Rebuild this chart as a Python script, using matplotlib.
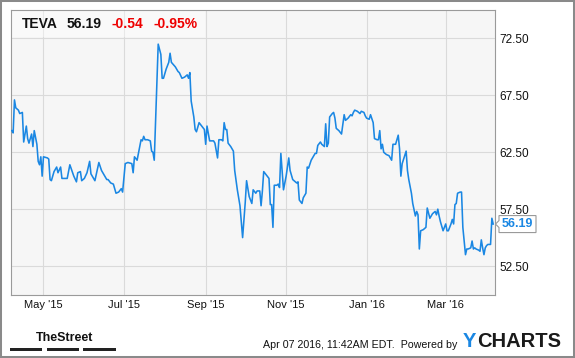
import pandas as pd
import matplotlib
matplotlib.use('Agg')
import matplotlib.pyplot as plt
from matplotlib.patches import Rectangle, Polygon

plt.rcParams['font.family'] = ['Liberation Sans', 'DejaVu Sans']

# --- Data ---
dates = [
    '2015-04-07', '2015-04-08', '2015-04-09', '2015-04-10', '2015-04-12', '2015-04-13', '2015-04-15',
    '2015-04-16', '2015-04-18', '2015-04-19', '2015-04-20', '2015-04-22', '2015-04-23', '2015-04-24',
    '2015-04-26', '2015-04-27', '2015-04-28', '2015-04-29', '2015-04-30', '2015-05-01', '2015-05-04',
    '2015-05-05', '2015-05-06', '2015-05-07', '2015-05-09', '2015-05-11', '2015-05-12', '2015-05-14',
    '2015-05-15', '2015-05-17', '2015-05-19', '2015-05-21', '2015-05-24', '2015-05-26', '2015-05-27',
    '2015-05-29', '2015-05-30', '2015-06-01', '2015-06-03', '2015-06-05', '2015-06-06', '2015-06-09',
    '2015-06-12', '2015-06-14', '2015-06-17', '2015-06-18', '2015-06-19', '2015-06-21', '2015-06-23',
    '2015-06-25', '2015-06-27', '2015-06-29', '2015-06-30', '2015-07-02', '2015-07-04', '2015-07-07',
    '2015-07-08', '2015-07-09', '2015-07-11', '2015-07-13', '2015-07-14', '2015-07-15', '2015-07-16',
    '2015-07-17', '2015-07-19', '2015-07-21', '2015-07-22', '2015-07-23', '2015-07-24', '2015-07-27',
    '2015-07-29', '2015-07-30', '2015-07-31', '2015-08-02', '2015-08-04', '2015-08-05', '2015-08-06',
    '2015-08-09', '2015-08-11', '2015-08-12', '2015-08-14', '2015-08-16', '2015-08-18', '2015-08-19',
    '2015-08-20', '2015-08-21', '2015-08-23', '2015-08-24', '2015-08-25', '2015-08-27', '2015-08-29',
    '2015-08-31', '2015-09-01', '2015-09-02', '2015-09-04', '2015-09-07', '2015-09-08', '2015-09-10',
    '2015-09-11', '2015-09-13', '2015-09-14', '2015-09-15', '2015-09-16', '2015-09-17', '2015-09-18',
    '2015-09-20', '2015-09-22', '2015-09-23', '2015-09-25', '2015-09-27', '2015-09-29', '2015-10-01',
    '2015-10-02', '2015-10-04', '2015-10-06', '2015-10-07', '2015-10-09', '2015-10-10', '2015-10-12',
    '2015-10-13', '2015-10-14', '2015-10-15', '2015-10-17', '2015-10-19', '2015-10-20', '2015-10-21',
    '2015-10-22', '2015-10-23', '2015-10-25', '2015-10-26', '2015-10-27', '2015-10-28', '2015-10-30',
    '2015-11-01', '2015-11-03', '2015-11-04', '2015-11-06', '2015-11-08', '2015-11-09', '2015-11-10',
    '2015-11-11', '2015-11-13', '2015-11-14', '2015-11-16', '2015-11-17', '2015-11-18', '2015-11-20',
    '2015-11-21', '2015-11-23', '2015-11-24', '2015-11-25', '2015-11-27', '2015-11-28', '2015-11-30',
    '2015-12-01', '2015-12-02', '2015-12-03', '2015-12-04', '2015-12-06', '2015-12-07', '2015-12-08',
    '2015-12-09', '2015-12-11', '2015-12-13', '2015-12-15', '2015-12-16', '2015-12-18', '2015-12-20',
    '2015-12-21', '2015-12-22', '2015-12-23', '2015-12-25', '2015-12-27', '2015-12-28', '2015-12-30',
    '2015-12-31', '2016-01-01', '2016-01-03', '2016-01-04', '2016-01-06', '2016-01-07', '2016-01-09',
    '2016-01-10', '2016-01-11', '2016-01-12', '2016-01-13', '2016-01-14', '2016-01-16', '2016-01-18',
    '2016-01-20', '2016-01-21', '2016-01-23', '2016-01-25', '2016-01-26', '2016-01-27', '2016-01-28',
    '2016-01-31', '2016-02-01', '2016-02-02', '2016-02-04', '2016-02-05', '2016-02-07', '2016-02-08',
    '2016-02-09', '2016-02-10', '2016-02-11', '2016-02-13', '2016-02-14', '2016-02-15', '2016-02-16',
    '2016-02-18', '2016-02-20', '2016-02-22', '2016-02-23', '2016-02-24', '2016-02-25', '2016-02-26',
    '2016-02-28', '2016-03-01', '2016-03-02', '2016-03-03', '2016-03-05', '2016-03-06', '2016-03-07',
    '2016-03-08', '2016-03-09', '2016-03-10', '2016-03-12', '2016-03-13', '2016-03-14', '2016-03-16',
    '2016-03-17', '2016-03-18', '2016-03-20', '2016-03-21', '2016-03-22', '2016-03-23', '2016-03-24',
    '2016-03-26', '2016-03-27', '2016-03-28', '2016-03-29', '2016-03-30', '2016-03-31', '2016-04-01',
    '2016-04-02', '2016-04-04', '2016-04-05', '2016-04-06',
]
prices = [
    64.4, 64.2, 67.1, 66.4, 66.2, 65.9, 66.0,
    63.4, 64.8, 63.7, 63.3, 64.1, 63.0, 64.4,
    63.2, 61.7, 61.4, 62.1, 60.4, 62.1, 62.0,
    61.9, 60.1, 60.0, 60.8, 61.2, 60.7, 61.2,
    60.2, 60.2, 60.2, 61.4, 60.4, 59.9, 60.7,
    60.8, 60.0, 60.2, 60.7, 61.7, 60.6, 60.0,
    61.6, 60.9, 60.3, 60.1, 60.1, 59.8, 59.7,
    58.9, 59.0, 59.3, 59.0, 61.5, 61.6, 61.5,
    60.7, 62.1, 61.8, 63.0, 63.6, 63.5, 63.9,
    63.6, 63.6, 63.5, 62.6, 62.5, 61.8, 72.0,
    71.1, 69.0, 69.0, 69.8, 70.4, 71.2, 70.4,
    70.0, 69.6, 69.5, 69.0, 69.1, 69.3, 69.0,
    69.5, 67.0, 65.6, 64.5, 64.3, 65.1, 64.8,
    64.5, 63.2, 64.8, 63.5, 63.5, 63.3, 62.0,
    63.6, 63.6, 63.5, 65.1, 64.5, 64.5, 63.3,
    63.0, 62.6, 60.9, 59.2, 57.8, 55.0, 58.1,
    60.0, 58.6, 58.0, 59.2, 58.9, 59.1, 59.1,
    57.8, 59.1, 60.8, 60.5, 60.2, 57.9, 57.9,
    55.9, 59.6, 59.6, 59.7, 59.4, 62.4, 59.2,
    60.4, 62.0, 60.9, 60.1, 59.9, 59.8, 59.9,
    58.3, 58.0, 58.5, 58.9, 61.2, 61.1, 61.8,
    62.0, 62.4, 62.4, 63.1, 63.4, 63.2, 63.0,
    65.0, 63.0, 63.3, 65.6, 65.9, 66.0, 65.5,
    64.6, 64.4, 64.1, 65.8, 65.3, 65.5, 65.8,
    65.7, 66.0, 66.2, 66.1, 65.9, 66.1, 66.0,
    65.7, 65.5, 65.4, 65.8, 65.1, 63.7, 63.6,
    63.6, 64.4, 62.8, 63.2, 62.5, 62.3, 62.2,
    61.8, 63.2, 63.2, 64.0, 62.8, 60.4, 61.5,
    62.6, 60.9, 60.1, 58.9, 58.0, 56.9, 57.3,
    57.0, 54.0, 55.6, 55.7, 55.8, 55.9, 57.6,
    56.7, 57.1, 57.3, 57.0, 57.5, 56.9, 56.4,
    55.6, 56.2, 55.6, 55.6, 56.2, 56.6, 56.2,
    57.9, 58.0, 58.9, 59.0, 59.0, 55.9, 53.5,
    54.0, 54.0, 54.1, 54.7, 54.0, 54.1, 54.0,
    53.9, 53.8, 54.8, 54.1, 53.5, 54.1, 54.3,
    54.4, 54.4, 56.7, 56.19,
]

x_ticks = ['2015-05-01', '2015-07-01', '2015-09-01', '2015-11-01', '2016-01-01', '2016-03-01']
x_labels = ["May '15", "Jul '15", "Sep '15", "Nov '15", "Jan '16", "Mar '16"]
y_ticks = [52.5, 57.5, 62.5, 67.5, 72.5]
x_range = ['2015-04-06', '2016-04-07']
y_range = [50, 75]

header = ['TEVA', '56.19', '-0.54', '-0.95%']
stamp = 'Apr 07 2016, 11:42AM EDT.  Powered by'

blue = '#1a87e3'
W, H = 575, 358


def fx(px):
    return px / W


def fy(py):
    return 1 - py / H


# --- Figure ---
fig = plt.figure(figsize=(W / 100, H / 100), dpi=100)
ax = fig.add_axes([fx(10.5), fy(294.5), (494.5 - 10.5) / W, (294.5 - 10) / H])
ax.set_facecolor('#f6f6f6')

t = pd.to_datetime(dates)
ax.plot(t, prices, color=blue, linewidth=1.15, zorder=3)

ax.set_xlim(pd.to_datetime(x_range))
ax.set_ylim(y_range)
ax.set_xticks(pd.to_datetime(x_ticks))
ax.set_xticklabels(x_labels)
ax.yaxis.tick_right()
ax.set_yticks(y_ticks)
ax.set_yticklabels([f'{v:.2f}' for v in y_ticks])
ax.tick_params(axis='x', length=0, pad=4, labelsize=8, colors='#111111')
ax.tick_params(axis='y', length=0, pad=3.3, labelsize=8.5, colors='#111111')
ax.grid(True, color='#dadada', linewidth=0.8)
ax.set_axisbelow(True)
for s in ax.spines.values():
    s.set_color('#9a9a9a')
    s.set_linewidth(0.8)

# lighter band behind the header
ax.add_patch(Rectangle((0, (294.5 - 37) / 284.5), (205 - 10.5) / 484, 1 - (294.5 - 37) / 284.5,
                       transform=ax.transAxes, facecolor='white', alpha=0.4,
                       edgecolor='none', zorder=1))

# header
header_x = [22, 67, 112, 153]
header_c = ['#111111', '#111111', '#ee0000', '#ee0000']
for txt, hx, hc in zip(header, header_x, header_c):
    fig.text(fx(hx), fy(28.3), txt, fontsize=10, fontweight='bold', color=hc, va='baseline')

# last price flag
fig.canvas.draw()
y_last = H - ax.transData.transform((t[-1].toordinal(), prices[-1]))[1]
flag = [(499, y_last - 8.5), (536, y_last - 8.5), (536, y_last + 8.5), (499, y_last + 8.5),
        (499, y_last + 3.5), (495.5, y_last), (499, y_last - 3.5)]
fig.add_artist(Polygon([(fx(a), fy(b)) for a, b in flag], closed=True, transform=fig.transFigure,
                       facecolor='white', edgecolor='#9a9a9a', linewidth=0.8))
fig.text(fx(517.5), fy(y_last), f'{prices[-1]:.2f}', fontsize=9, fontweight='bold',
         color=blue, ha='center', va='center')

# footer
fig.text(fx(36), fy(340.7), 'TheStreet', fontsize=9, fontweight='bold', va='baseline',
         color='#111111')
for x0, x1 in [(10, 42), (47, 79), (83, 116)]:
    fig.add_artist(Rectangle((fx(x0), fy(350.5)), (x1 - x0) / W, 3 / H,
                             transform=fig.transFigure, facecolor='#222222', edgecolor='none'))
fig.text(fx(263), fy(347.6), stamp, fontsize=7.7, va='baseline', color='#111111')
fig.text(fx(463), fy(347.3), 'Y', fontsize=14.5, fontweight='bold', va='baseline', color=blue)
fig.text(fx(477), fy(347.3), 'CHARTS', fontsize=14.5, fontweight='bold', va='baseline', color='#1a1a1a')

# outer frame
fig.add_artist(Rectangle((0, 0), 1, 1, transform=fig.transFigure, fill=False,
                         edgecolor='#8a8a8a', linewidth=2.9))

fig.savefig('out.png', dpi=100)
